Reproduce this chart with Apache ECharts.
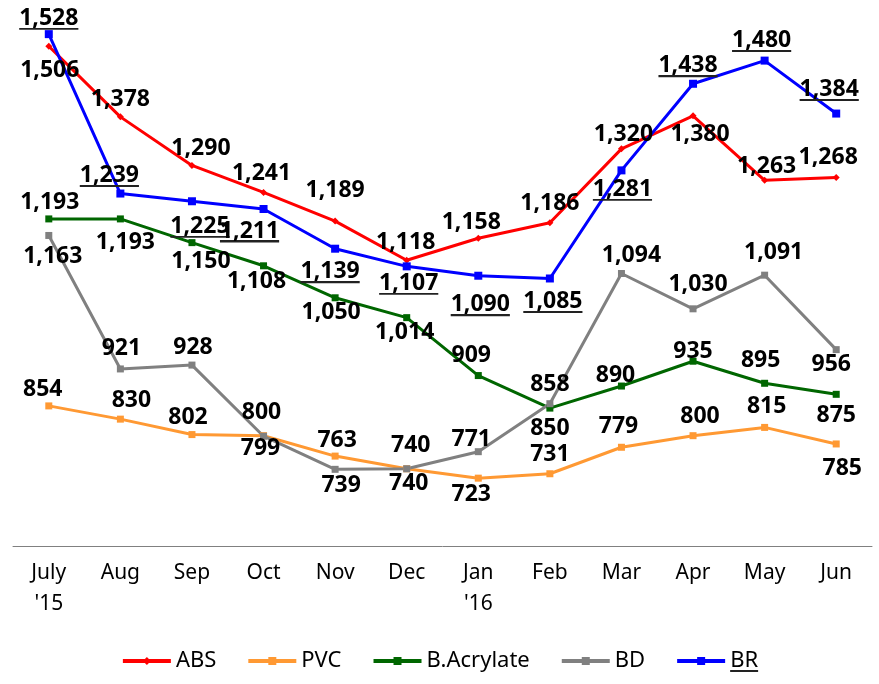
<!DOCTYPE html>
<html>
<head>
<meta charset="utf-8">
<script src="https://cdn.jsdelivr.net/npm/echarts@6/dist/echarts.min.js"></script>
<style>
  html, body { margin: 0; padding: 0; background: #fff; }
  #chart { width: 879px; height: 684px; }
</style>
</head>
<body>
<div id="chart"></div>
<script>
// 月份
var months = ["July\n'15", 'Aug', 'Sep', 'Oct', 'Nov', 'Dec', "Jan\n'16", 'Feb', 'Mar', 'Apr', 'May', 'Jun'];

// 各产品价格
var absData = [1506, 1378, 1290, 1241, 1189, 1118, 1158, 1186, 1320, 1380, 1263, 1268];
var pvcData = [854, 830, 802, 800, 763, 740, 723, 731, 779, 800, 815, 785];
var acrData = [1193, 1193, 1150, 1108, 1050, 1014, 909, 850, 890, 935, 895, 875];
var bdData = [1163, 921, 928, 799, 739, 740, 771, 858, 1094, 1030, 1091, 956];
var brData = [1528, 1239, 1225, 1211, 1139, 1107, 1090, 1085, 1281, 1438, 1480, 1384];

// 标签偏移 [dx, dy]
var absOff = [[1, 24], [0, -17], [9, -17], [-2, -19], [0, -31], [-1, -18], [-7, -16], [0, -19], [2, -14], [7, 19], [2, -14], [-8, -20]];
var pvcOff = [[-6, -16], [11, -19], [-4, -17], [-2, -23], [2, -16], [4, -23], [-7, 16], [0, -19], [-3, -21], [7, -19], [2, -21], [6, 24]];
var acrOff = [[1, -16], [5, 24], [9, 19], [-7, 16], [-4, 15], [-2, 15], [-7, -20], [0, 20], [-6, -11], [0, -10], [-4, -23], [0, 21]];
var bdOff = [[4, 21], [1, -20], [1, -18], [-3, 12], [6, 16], [2, 15], [-7, -12], [0, -19], [10, -18], [5, -24], [9, -23], [-5, 15]];
var brOff = [[0, -16], [-11, -18], [8, 25], [-14, 22], [-5, 23], [2, 17], [2, 29], [3, 23], [1, 19], [-5, -18], [-3, -20], [-7, -24]];

var underline = new echarts.graphic.LinearGradient(0, 0, 0, 1, [
    { offset: 0, color: 'rgba(0,0,0,0)' },
    { offset: 0.91, color: 'rgba(0,0,0,0)' },
    { offset: 0.91, color: '#222' },
    { offset: 1, color: '#222' }
]);

function fmt(v) {
    return v.toLocaleString('en-US');
}

function makeSeries(name, values, offs, color, symbol, size, ul) {
    return {
        name: name,
        type: 'line',
        symbol: symbol,
        symbolSize: size,
        lineStyle: { width: 3, color: color },
        itemStyle: { color: color },
        data: values.map(function (v, i) {
            return { value: v, label: { offset: offs[i] } };
        }),
        label: {
            show: true,
            position: 'inside',
            fontFamily: 'Noto Sans',
            fontWeight: 'bold',
            fontSize: 23,
            lineHeight: 23,
            color: '#000',
            formatter: function (p) {
                return ul ? '{u|' + fmt(p.value) + '}' : fmt(p.value);
            },
            rich: {
                u: {
                    fontFamily: 'Noto Sans',
                    fontWeight: 'bold',
                    fontSize: 23,
                    lineHeight: 24,
                    color: '#000',
                    backgroundColor: underline
                }
            }
        },
        emphasis: { disabled: true },
        animation: false
    };
}

var chart = echarts.init(document.getElementById('chart'));
chart.setOption({
    animation: false,
    grid: { left: 13, right: 7, top: 22, bottom: 138 },
    legend: {
        bottom: 7,
        itemWidth: 48,
        itemHeight: 10,
        itemGap: 30,
        lineStyle: { width: 4 },
        data: ['ABS', 'PVC', 'B.Acrylate', 'BD', 'BR'],
        formatter: function (name) {
            return name === 'BR' ? '{u|BR}' : name;
        },
        textStyle: {
            fontFamily: 'Noto Sans',
            fontSize: 22,
            color: '#000',
            rich: {
                u: {
                    fontFamily: 'Noto Sans',
                    fontSize: 22,
                    lineHeight: 27,
                    color: '#000',
                    backgroundColor: underline
                }
            }
        }
    },
    xAxis: {
        type: 'category',
        data: months,
        boundaryGap: true,
        axisLine: { lineStyle: { color: '#808080', width: 1 } },
        axisTick: { show: false },
        axisLabel: {
            margin: 12,
            fontFamily: 'Noto Sans',
            fontSize: 21,
            lineHeight: 31,
            color: '#000',
            interval: 0
        }
    },
    yAxis: {
        type: 'value',
        min: 600,
        max: 1550,
        show: false,
        splitLine: { show: false }
    },
    series: [
        makeSeries('ABS', absData, absOff, '#FF0000', 'diamond', 7, false),
        makeSeries('PVC', pvcData, pvcOff, '#FF9933', 'rect', 7, false),
        makeSeries('B.Acrylate', acrData, acrOff, '#006600', 'rect', 7, false),
        makeSeries('BD', bdData, bdOff, '#808080', 'rect', 7, false),
        makeSeries('BR', brData, brOff, '#0000FF', 'rect', 8, true)
    ]
});
</script>
</body>
</html>
